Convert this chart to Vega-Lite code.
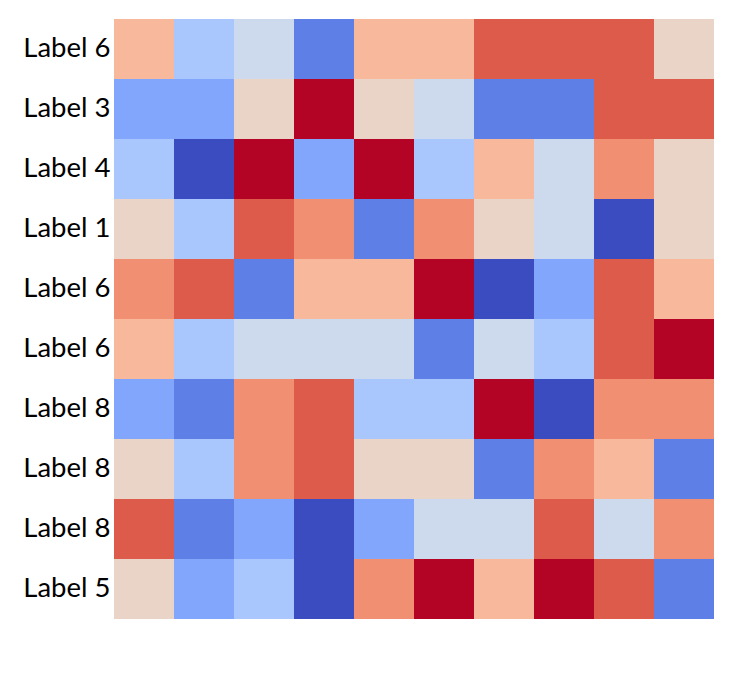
{
  "$schema": "https://vega.github.io/schema/vega-lite/v6.json",
  "width": 600,
  "height": 600,
  "autosize": "none",
  "padding": {"left": 114, "top": 19, "right": 19, "bottom": 63},
  "background": "white",
  "config": {"view": {"stroke": null}, "font": "Lato"},
  "data": {"values": [
    {"row":0,"col":0,"v":6},{"row":0,"col":1,"v":3},{"row":0,"col":2,"v":4},{"row":0,"col":3,"v":1},{"row":0,"col":4,"v":6},{"row":0,"col":5,"v":6},{"row":0,"col":6,"v":8},{"row":0,"col":7,"v":8},{"row":0,"col":8,"v":8},{"row":0,"col":9,"v":5},
    {"row":1,"col":0,"v":2},{"row":1,"col":1,"v":2},{"row":1,"col":2,"v":5},{"row":1,"col":3,"v":9},{"row":1,"col":4,"v":5},{"row":1,"col":5,"v":4},{"row":1,"col":6,"v":1},{"row":1,"col":7,"v":1},{"row":1,"col":8,"v":8},{"row":1,"col":9,"v":8},
    {"row":2,"col":0,"v":3},{"row":2,"col":1,"v":0},{"row":2,"col":2,"v":9},{"row":2,"col":3,"v":2},{"row":2,"col":4,"v":9},{"row":2,"col":5,"v":3},{"row":2,"col":6,"v":6},{"row":2,"col":7,"v":4},{"row":2,"col":8,"v":7},{"row":2,"col":9,"v":5},
    {"row":3,"col":0,"v":5},{"row":3,"col":1,"v":3},{"row":3,"col":2,"v":8},{"row":3,"col":3,"v":7},{"row":3,"col":4,"v":1},{"row":3,"col":5,"v":7},{"row":3,"col":6,"v":5},{"row":3,"col":7,"v":4},{"row":3,"col":8,"v":0},{"row":3,"col":9,"v":5},
    {"row":4,"col":0,"v":7},{"row":4,"col":1,"v":8},{"row":4,"col":2,"v":1},{"row":4,"col":3,"v":6},{"row":4,"col":4,"v":6},{"row":4,"col":5,"v":9},{"row":4,"col":6,"v":0},{"row":4,"col":7,"v":2},{"row":4,"col":8,"v":8},{"row":4,"col":9,"v":6},
    {"row":5,"col":0,"v":6},{"row":5,"col":1,"v":3},{"row":5,"col":2,"v":4},{"row":5,"col":3,"v":4},{"row":5,"col":4,"v":4},{"row":5,"col":5,"v":1},{"row":5,"col":6,"v":4},{"row":5,"col":7,"v":3},{"row":5,"col":8,"v":8},{"row":5,"col":9,"v":9},
    {"row":6,"col":0,"v":2},{"row":6,"col":1,"v":1},{"row":6,"col":2,"v":7},{"row":6,"col":3,"v":8},{"row":6,"col":4,"v":3},{"row":6,"col":5,"v":3},{"row":6,"col":6,"v":9},{"row":6,"col":7,"v":0},{"row":6,"col":8,"v":7},{"row":6,"col":9,"v":7},
    {"row":7,"col":0,"v":5},{"row":7,"col":1,"v":3},{"row":7,"col":2,"v":7},{"row":7,"col":3,"v":8},{"row":7,"col":4,"v":5},{"row":7,"col":5,"v":5},{"row":7,"col":6,"v":1},{"row":7,"col":7,"v":7},{"row":7,"col":8,"v":6},{"row":7,"col":9,"v":1},
    {"row":8,"col":0,"v":8},{"row":8,"col":1,"v":1},{"row":8,"col":2,"v":2},{"row":8,"col":3,"v":0},{"row":8,"col":4,"v":2},{"row":8,"col":5,"v":4},{"row":8,"col":6,"v":4},{"row":8,"col":7,"v":8},{"row":8,"col":8,"v":4},{"row":8,"col":9,"v":7},
    {"row":9,"col":0,"v":5},{"row":9,"col":1,"v":2},{"row":9,"col":2,"v":3},{"row":9,"col":3,"v":0},{"row":9,"col":4,"v":7},{"row":9,"col":5,"v":9},{"row":9,"col":6,"v":6},{"row":9,"col":7,"v":9},{"row":9,"col":8,"v":8},{"row":9,"col":9,"v":1}
  ]},
  "mark": {"type": "rect"},
  "encoding": {
    "x": {"field": "col", "type": "ordinal", "axis": null, "scale": {"paddingInner": 0, "paddingOuter": 0}},
    "y": {"field": "row", "type": "ordinal", "scale": {"paddingInner": 0, "paddingOuter": 0},
      "axis": {"title": null, "ticks": false, "domain": false, "labelPadding": 4, "labelFontSize": 27.5, "labelFont": "Lato", "labelColor": "#000000",
        "labelExpr": "['Label 6','Label 3','Label 4','Label 1','Label 6','Label 6','Label 8','Label 8','Label 8','Label 5'][datum.value]"}},
    "color": {"field": "v", "type": "ordinal", "legend": null,
      "scale": {"domain": [0,1,2,3,4,5,6,7,8,9], "range": ["#3b4cc0","#5e7fe6","#82a6fb","#aac7fd","#cdd9ec","#ead4c8","#f7b89c","#f08f71","#dc5b4a","#b40426"]}}
  }
}
